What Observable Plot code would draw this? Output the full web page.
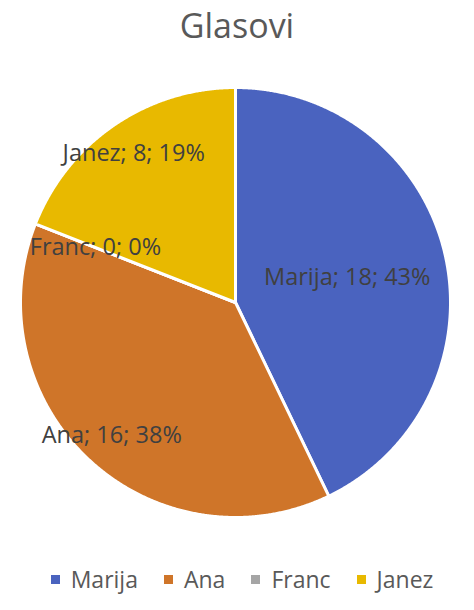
<!DOCTYPE html>
<html>
<head>
<meta charset="utf-8">
<script src="https://cdn.jsdelivr.net/npm/d3@7"></script>
<script src="https://cdn.jsdelivr.net/npm/@observablehq/plot@0.6"></script>
<style>
  body { margin: 0; background: #fff; font-family: "Open Sans", sans-serif; }
  #chart { width: 474px; height: 610px; overflow: hidden; }
  .title { height: 52px; line-height: 50px; text-align: center; font-size: 34px; color: #595959; }
  .legend { height: 54px; padding-left: 10px; display: flex; justify-content: center; align-items: center; gap: 26px; font-size: 23px; color: #595959; }
  .legend .item { display: flex; align-items: center; }
  .legend .swatch { width: 9px; height: 9px; margin-right: 11px; }
  svg { display: block; }
</style>
</head>
<body>
<div id="chart"></div>
<script>
// Votes per candidate
const names = ["Marija", "Ana", "Franc", "Janez"];
const votes = [18, 16, 0, 8];
const colors = ["#4a63bf", "#cf7529", "#a5a5a5", "#e8b900"];
const titleText = "Glasovi";

// Label distance from the centre, as a fraction of the radius
const labelRadius = [0.533, 0.846, 0.70, 0.84];

const total = d3.sum(votes);
const arcs = d3.pie().sort(null).value(d => d)(votes);

// Unit-circle geometry: angle 0 at 12 o'clock, clockwise, y pointing down
const pt = t => [Math.sin(t), -Math.cos(t)];

const slices = names.map((name, i) => {
  const a = arcs[i];
  const steps = Math.max(2, Math.ceil((a.endAngle - a.startAngle) / 0.005));
  const ring = [[0, 0]];
  for (let k = 0; k <= steps; k++) ring.push(pt(a.startAngle + (a.endAngle - a.startAngle) * k / steps));
  ring.push([0, 0]);
  return {type: "Feature", properties: {name, votes: votes[i]}, geometry: {type: "Polygon", coordinates: [ring]}};
});

const outline = {type: "Polygon", coordinates: [d3.range(0, 361).map(d => pt(d * Math.PI / 180))]};

const labels = names.map((name, i) => {
  const a = arcs[i];
  const mid = (a.startAngle + a.endAngle) / 2;
  const [x, y] = pt(mid);
  const pct = Math.round(votes[i] / total * 100);
  return {x: x * labelRadius[i], y: y * labelRadius[i], text: `${name}; ${votes[i]}; ${pct}%`};
});

const chart = document.getElementById("chart");

const title = document.createElement("div");
title.className = "title";
title.textContent = titleText;
chart.appendChild(title);

const plot = Plot.plot({
  width: 474,
  height: 500,
  marginLeft: 20,
  marginRight: 24,
  marginTop: 35,
  marginBottom: 35,
  projection: {type: "identity", domain: outline},
  color: {domain: names, range: colors},
  style: {fontFamily: "Open Sans, sans-serif", background: "white"},
  marks: [
    Plot.geo(slices, {fill: d => d.properties.name, stroke: "white", strokeWidth: 3, strokeLinejoin: "round"}),
    Plot.text(labels, {x: "x", y: "y", text: "text", fontSize: 23.5, fill: "#404040", textAnchor: "middle"})
  ]
});
chart.appendChild(plot);

const legend = document.createElement("div");
legend.className = "legend";
names.forEach((name, i) => {
  const item = document.createElement("div");
  item.className = "item";
  const sw = document.createElement("span");
  sw.className = "swatch";
  sw.style.background = colors[i];
  const label = document.createElement("span");
  label.textContent = name;
  item.appendChild(sw);
  item.appendChild(label);
  legend.appendChild(item);
});
chart.appendChild(legend);
</script>
</body>
</html>
